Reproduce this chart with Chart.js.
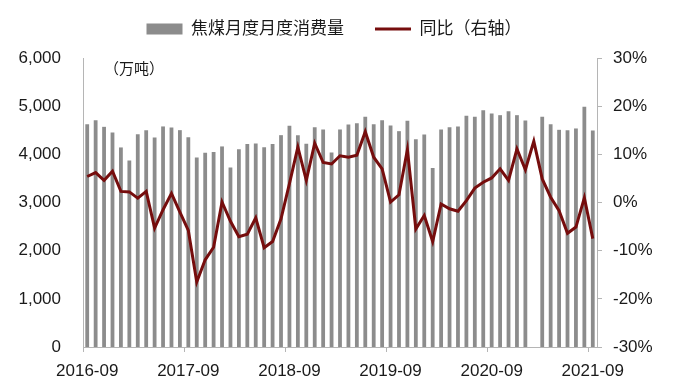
<!DOCTYPE html>
<html>
<head>
<meta charset="utf-8">
<script src="https://cdn.jsdelivr.net/npm/chart.js@4.4.1/dist/chart.umd.min.js"></script>
<style>
    html, body { margin: 0; padding: 0; background: #ffffff; }
</style>
</head>
<body>
<canvas id="canvasCoke" width="676" height="385"></canvas>
<script>
// mois (axe des catégories)
var months = [
    "2016-09", "2016-10", "2016-11", "2016-12", "2017-01", "2017-02", "2017-03", "2017-04", "2017-05", "2017-06", "2017-07", "2017-08",
    "2017-09", "2017-10", "2017-11", "2017-12", "2018-01", "2018-02", "2018-03", "2018-04", "2018-05", "2018-06", "2018-07", "2018-08",
    "2018-09", "2018-10", "2018-11", "2018-12", "2019-01", "2019-02", "2019-03", "2019-04", "2019-05", "2019-06", "2019-07", "2019-08",
    "2019-09", "2019-10", "2019-11", "2019-12", "2020-01", "2020-02", "2020-03", "2020-04", "2020-05", "2020-06", "2020-07", "2020-08",
    "2020-09", "2020-10", "2020-11", "2020-12", "2021-01", "2021-02", "2021-03", "2021-04", "2021-05", "2021-06", "2021-07", "2021-08",
    "2021-09"
];

// consommation mensuelle (万吨), 2021-02 absent
var consumption = [
    4627, 4710, 4571, 4454, 4143, 3873, 4419, 4502, 4351, 4579, 4558, 4502,
    4357, 3936, 4031, 4046, 4164, 3728, 4108, 4212, 4226, 4149, 4212, 4398,
    4592, 4398, 4219, 4564, 4516, 4039, 4516, 4620, 4647, 4779, 4627, 4710,
    4599, 4481, 4696, 4315, 4412, 3714, 4516, 4564, 4578, 4799, 4779, 4917,
    4848, 4813, 4896, 4813, 4703, null, 4779, 4627, 4509, 4502, 4537, 4986,
    4495
];

// variation sur un an (%)
var yoy = [
    5.4, 6.2, 4.6, 6.5, 2.3, 2.2, 0.9, 2.3, -5.3, -1.5, 1.9, -2.0,
    -5.8, -16.5, -11.9, -9.3, 0.1, -3.9, -7.1, -6.6, -3.2, -9.4, -8.1, -3.4,
    3.9, 11.5, 4.6, 12.3, 8.3, 8.0, 9.7, 9.4, 9.8, 14.7, 9.4, 7.0,
    0.1, 1.6, 11.0, -5.5, -2.7, -8.1, -0.3, -1.3, -1.8, 0.4, 3.0, 4.2,
    5.1, 7.0, 4.6, 11.1, 6.8, 12.7, 4.9, 1.1, -1.7, -6.4, -5.1, 1.0,
    -7.5
];

var barColor = '#8c8c8c';
var lineColor = '#760d0d';
var axisColor = '#b5b5b5';
var textColor = '#1a1a1a';

Chart.defaults.font.family = '"Liberation Sans", "Noto Sans CJK SC", sans-serif';
Chart.defaults.font.size = 17;
Chart.defaults.color = textColor;

// marge sous la légende
var legendMargin = {
    id: 'legendMargin',
    beforeInit: function(chart) {
        var fitLegend = chart.legend.fit;
        chart.legend.fit = function() {
            fitLegend.bind(chart.legend)();
            this.height += 10.5;
        };
    }
};

// unité en haut à gauche
var unitLabel = {
    id: 'unitLabel',
    afterDraw: function(chart) {
        var ctx = chart.ctx;
        ctx.save();
        ctx.font = '15px "Noto Sans CJK SC", sans-serif';
        ctx.fillStyle = textColor;
        ctx.textBaseline = 'middle';
        ctx.textAlign = 'left';
        ctx.fillText('（万吨）', chart.chartArea.left + 21, chart.chartArea.top + 10);
        ctx.restore();
    }
};

var ctx = document.getElementById('canvasCoke').getContext('2d');
var chart = new Chart(ctx, {
    type: 'bar',
    data: {
        labels: months,
        datasets: [{
            type: 'bar',
            label: '焦煤月度月度消费量',
            data: consumption,
            backgroundColor: barColor,
            borderWidth: 0,
            barPercentage: 0.45,
            categoryPercentage: 1.0,
            yAxisID: 'y',
            order: 2
        }, {
            type: 'line',
            label: '同比（右轴）',
            data: yoy,
            borderColor: lineColor,
            backgroundColor: lineColor,
            borderWidth: 3,
            pointRadius: 0,
            tension: 0,
            yAxisID: 'y1',
            order: 1
        }]
    },
    options: {
        responsive: false,
        animation: false,
        layout: {
            padding: { top: -10.5, left: 0, right: 8, bottom: 0 }
        },
        plugins: {
            tooltip: { enabled: false },
            legend: {
                position: 'top',
                labels: {
                    usePointStyle: true,
                    pointStyleWidth: 36,
                    boxHeight: 11,
                    padding: 31,
                    color: textColor,
                    font: { size: 17 },
                    generateLabels: function(chart) {
                        var items = Chart.defaults.plugins.legend.labels.generateLabels(chart);
                        items.sort(function(a, b) { return a.datasetIndex - b.datasetIndex; });
                        items.forEach(function(item) {
                            if (item.datasetIndex === 0) {
                                item.pointStyle = 'rect';
                                item.lineWidth = 0;
                                item.fillStyle = barColor;
                            } else {
                                item.pointStyle = 'line';
                                item.lineWidth = 3;
                                item.strokeStyle = lineColor;
                            }
                        });
                        return items;
                    }
                }
            }
        },
        scales: {
            x: {
                offset: true,
                grid: {
                    offset: true,
                    drawOnChartArea: false,
                    drawTicks: true,
                    tickLength: 5,
                    tickColor: function(c) {
                        return c.index % 12 === 0 ? axisColor : 'rgba(0,0,0,0)';
                    }
                },
                border: { display: true, color: axisColor, width: 1 },
                ticks: {
                    autoSkip: false,
                    maxRotation: 0,
                    minRotation: 0,
                    padding: 9,
                    color: textColor,
                    callback: function(value, index) {
                        return index % 12 === 0 ? months[index] : '';
                    }
                },
                afterFit: function(scale) { scale.height = 38; }
            },
            y: {
                position: 'left',
                min: 0,
                max: 6000,
                ticks: {
                    stepSize: 1000,
                    padding: 22,
                    color: textColor,
                    callback: function(v) { return v.toLocaleString('en-US'); }
                },
                grid: { display: false, drawTicks: false },
                border: { display: true, color: axisColor, width: 1 },
                afterFit: function(scale) { scale.width = 83; }
            },
            y1: {
                position: 'right',
                min: -30,
                max: 30,
                ticks: {
                    stepSize: 10,
                    padding: 11,
                    color: textColor,
                    callback: function(v) { return v + '%'; }
                },
                grid: {
                    display: true,
                    drawOnChartArea: false,
                    drawTicks: true,
                    tickLength: 5,
                    color: axisColor
                },
                border: { display: true, color: axisColor, width: 1 },
                afterFit: function(scale) { scale.width = 71; }
            }
        }
    },
    plugins: [legendMargin, unitLabel]
});
</script>
</body>
</html>
